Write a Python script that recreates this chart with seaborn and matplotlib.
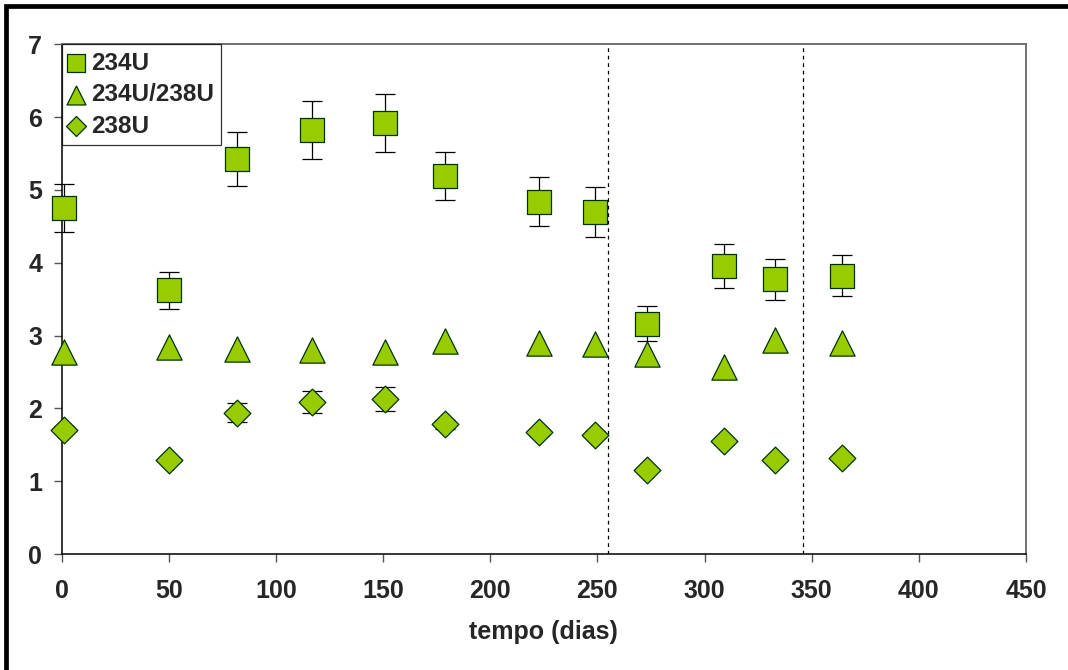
import matplotlib
matplotlib.use("Agg")
import matplotlib.pyplot as plt
import seaborn as sns
import pandas as pd
from matplotlib.patches import Rectangle

# tempo de amostragem (dias)
tempo = [1, 50, 82, 117, 151, 179, 223, 249, 273, 309, 333, 364]

u234 = [4.75, 3.62, 5.42, 5.82, 5.92, 5.19, 4.84, 4.70, 3.16, 3.96, 3.77, 3.82]
u234_err = [0.33, 0.25, 0.37, 0.40, 0.40, 0.33, 0.34, 0.34, 0.24, 0.30, 0.28, 0.28]

razao = [2.78, 2.84, 2.82, 2.80, 2.77, 2.92, 2.90, 2.88, 2.75, 2.57, 2.94, 2.90]
# barras de erro da razao ficam escondidas atras dos triangulos
razao_err = [0.0, 0.0, 0.0, 0.0, 0.0, 0.0, 0.0, 0.0, 0.0, 0.0, 0.0, 0.0]

u238 = [1.71, 1.29, 1.94, 2.09, 2.13, 1.78, 1.67, 1.64, 1.15, 1.55, 1.29, 1.32]
u238_err = [0.05, 0.04, 0.13, 0.15, 0.16, 0.06, 0.05, 0.05, 0.04, 0.05, 0.04, 0.04]

limites = [255, 346]

series = ["234U", "234U/238U", "238U"]

df = pd.DataFrame({
    "tempo": tempo * 3,
    "valor": u234 + razao + u238,
    "erro": u234_err + razao_err + u238_err,
    "serie": [s for s in series for _ in tempo],
})

sns.set_style("white")
plt.rcParams["font.family"] = ["Liberation Sans", "DejaVu Sans"]
plt.rcParams["font.weight"] = "bold"

FILL = "#99cc00"
EDGE = "#003300"
FS = 18
marcadores = {"234U": ("s", 290), "234U/238U": ("^", 330), "238U": ("D", 185)}

fig = plt.figure(figsize=(10.68, 6.70), dpi=100)
ax = fig.add_axes([0.0576, 0.1731, 0.9031, 0.7608])

for s in series:
    sub = df[(df["serie"] == s) & (df["erro"] > 0)]
    if sub.empty:
        continue
    _, caps, barras = ax.errorbar(sub["tempo"], sub["valor"], yerr=sub["erro"],
                                  fmt="none", ecolor="black", elinewidth=0.9,
                                  capsize=7, capthick=0.9, zorder=2)
    for a in list(caps) + list(barras):
        a.set_clip_on(False)

for s in series:
    sub = df[df["serie"] == s]
    m, size = marcadores[s]
    sns.scatterplot(data=sub, x="tempo", y="valor", marker=m, s=size,
                    color=FILL, edgecolor=EDGE, linewidth=0.9,
                    label=s, ax=ax, zorder=3, clip_on=False)

for x in limites:
    ax.axvline(x, color="black", linestyle=(0, (3, 3)), linewidth=0.9, zorder=1)

ax.set_xlim(0, 450)
ax.set_ylim(0, 7)
ax.set_xticks(range(0, 451, 50))
ax.set_yticks(range(0, 8))
ax.set_xlabel("tempo (dias)", fontsize=FS, fontweight="bold", labelpad=12)
ax.set_ylabel("")

ax.tick_params(axis="x", direction="out", length=6, width=1, color="#555555",
               labelsize=FS, pad=12, bottom=True)
ax.tick_params(axis="y", direction="out", length=6, width=1, color="#555555",
               labelsize=FS, pad=8, left=True)

for side in ["left", "bottom"]:
    ax.spines[side].set_color("black")
    ax.spines[side].set_linewidth(1.1)
for side in ["top", "right"]:
    ax.spines[side].set_color("#707070")
    ax.spines[side].set_linewidth(1.4)

leg = ax.legend(loc="upper left", borderaxespad=0, fontsize=17.5,
                markerscale=0.75, handletextpad=0.3, handlelength=0.6,
                labelspacing=0.35, borderpad=0.3, fancybox=False,
                frameon=True, scatterpoints=1)
leg.get_frame().set_edgecolor("black")
leg.get_frame().set_linewidth(0.9)
for t in leg.get_texts():
    t.set_fontweight("bold")

# moldura externa (cortada a direita e em baixo)
fig.patches.append(Rectangle((6 / 1068, -0.2), 2, 1.2 - 6 / 670,
                             transform=fig.transFigure, fill=False,
                             linewidth=3.4, edgecolor="black"))

fig.savefig("out.png", dpi=100)
